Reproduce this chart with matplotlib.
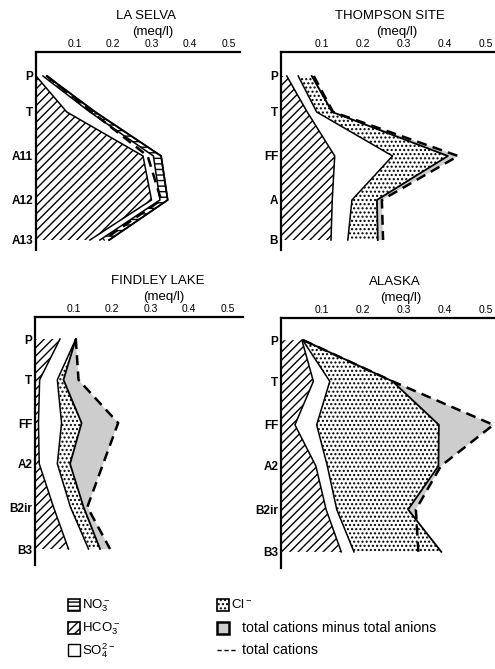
import numpy as np
import matplotlib
matplotlib.use('Agg')
import matplotlib.pyplot as plt
from matplotlib.patches import Rectangle
from matplotlib.lines import Line2D

plt.rcParams['font.family'] = ['Liberation Sans', 'DejaVu Sans']
plt.rcParams['mathtext.fontset'] = 'custom'
plt.rcParams['mathtext.rm'] = 'Liberation Sans'
plt.rcParams['hatch.linewidth'] = 1.0

# soil horizons (depth position of each horizon, top panels / bottom panels)
horizons_selva = ['P', 'T', 'A11', 'A12', 'A13']
horizons_thompson = ['P', 'T', 'FF', 'A', 'B']
horizons_bottom = ['P', 'T', 'FF', 'A2', 'B2ir', 'B3']
depth_top = [0, 0.9, 2.0, 3.1, 4.1]
depth_bottom = [0, 1.02, 2.1, 3.12, 4.2, 5.25]

# anion / cation concentrations (meq/l)
selva_hco3 = [0.0, 0.08, 0.278, 0.30, 0.14]
selva_so4 = [0.018, 0.06, 0.027, 0.022, 0.026]
selva_no3 = [0.01, 0.014, 0.02, 0.02, 0.024]
selva_cl = [0, 0, 0, 0, 0]
selva_cations = [0.028, 0.145, 0.29, 0.325, 0.175]

thompson_hco3 = [0.014, 0.064, 0.131, 0.125, 0.122]
thompson_so4 = [0.028, 0.023, 0.141, 0.048, 0.041]
thompson_no3 = [0, 0, 0, 0, 0]
thompson_cl = [0.033, 0.038, 0.135, 0.061, 0.073]
thompson_cations = [0.08, 0.127, 0.432, 0.246, 0.249]

findley_hco3 = [0.065, 0.012, 0.009, 0.011, 0.048, 0.087]
findley_so4 = [0.041, 0.046, 0.06, 0.047, 0.044, 0.052]
findley_no3 = [0, 0, 0, 0, 0, 0]
findley_cl = [0, 0.016, 0.052, 0.033, 0.034, 0.03]
findley_cations = [0.106, 0.113, 0.216, 0.177, 0.136, 0.195]

alaska_hco3 = [0.051, 0.079, 0.034, 0.085, 0.11, 0.147]
alaska_so4 = [0.002, 0.04, 0.053, 0.028, 0.026, 0.031]
alaska_no3 = [0, 0, 0, 0, 0, 0]
alaska_cl = [0.002, 0.153, 0.298, 0.271, 0.174, 0.213]
alaska_cations = [0.054, 0.272, 0.518, 0.39, 0.329, 0.335]

xticks = [0.1, 0.2, 0.3, 0.4, 0.5]

GREY = '#cdcdcd'


def draw_panel(ax, title, horizons, depth, hco3, so4, no3, cl, cations, xmax, ylim, tx):
    depth = np.array(depth)
    b1 = np.array(hco3)
    b2 = b1 + np.array(so4)
    b3 = b2 + np.array(no3)
    b4 = b3 + np.array(cl)
    cat = np.array(cations)

    ax.fill_betweenx(depth, 0, b1, facecolor='white', hatch='////', edgecolor='black', linewidth=0)
    if np.any(np.array(no3) > 0):
        ax.fill_betweenx(depth, b2, b3, facecolor='white', hatch='---', edgecolor='black', linewidth=0)
    if np.any(np.array(cl) > 0):
        ax.fill_betweenx(depth, b3, b4, facecolor='white', hatch='....', edgecolor='black', linewidth=0)
    ax.fill_betweenx(depth, b4, cat, where=cat > b4, interpolate=True,
                     facecolor=GREY, edgecolor='none')

    ax.plot(b1, depth, color='black', lw=1.1)
    ax.plot(b2, depth, color='black', lw=1.1)
    if np.any(np.array(no3) > 0):
        ax.plot(b3, depth, color='black', lw=1.1)
    ax.plot(b4, depth, color='black', lw=1.3)
    ax.plot(cat, depth, color='black', lw=1.8, dashes=(4, 2.5))

    ax.set_xlim(0, xmax)
    ax.set_ylim(ylim)
    ax.xaxis.tick_top()
    ax.set_xticks(xticks)
    ax.set_xticklabels([str(t) for t in xticks], fontsize=7.5)
    ax.set_yticks(depth)
    ax.set_yticklabels(horizons, fontsize=8.5, fontweight='bold')
    ax.tick_params(length=0, pad=2)
    for s in ['right', 'bottom']:
        ax.spines[s].set_visible(False)
    for s in ['left', 'top']:
        ax.spines[s].set_linewidth(1.6)
    ax.annotate(title, xy=(tx, 1), xycoords='axes fraction', xytext=(0, 36 * 0.72),
                textcoords='offset points', ha='center', va='center', fontsize=9.5)
    ax.annotate('(meq/l)', xy=(tx + 0.03, 1), xycoords='axes fraction', xytext=(0, 20 * 0.72),
                textcoords='offset points', ha='center', va='center', fontsize=9.5)


W, H = 495, 669
fig = plt.figure(figsize=(W / 100, H / 100), dpi=100)


def box(x0, x1, y0, y1):
    return [x0 / W, 1 - y1 / H, (x1 - x0) / W, (y1 - y0) / H]


ax1 = fig.add_axes(box(36, 240, 52, 250))
draw_panel(ax1, 'LA SELVA', horizons_selva, depth_top, selva_hco3, selva_so4,
           selva_no3, selva_cl, selva_cations, 204 / 385, (4.35, -0.6), 0.54)
ax2 = fig.add_axes(box(281, 495, 52, 250))
draw_panel(ax2, 'THOMPSON SITE', horizons_thompson, depth_top, thompson_hco3, thompson_so4,
           thompson_no3, thompson_cl, thompson_cations, 214 / 410, (4.35, -0.6), 0.51)
ax3 = fig.add_axes(box(35, 243, 317, 565))
draw_panel(ax3, 'FINDLEY LAKE', horizons_bottom, depth_bottom, findley_hco3, findley_so4,
           findley_no3, findley_cl, findley_cations, 208 / 385, (5.65, -0.55), 0.59)
ax4 = fig.add_axes(box(281, 495, 318, 568))
draw_panel(ax4, 'ALASKA', horizons_bottom, depth_bottom, alaska_hco3, alaska_so4,
           alaska_no3, alaska_cl, alaska_cations, 214 / 410, (5.65, -0.55), 0.53)

# legend drawn in pixel coordinates
lg = fig.add_axes([0, 0, 1, 1])
lg.set_xlim(0, W)
lg.set_ylim(H, 0)
lg.axis('off')
lg.patch.set_alpha(0)
lg.add_patch(Rectangle((68, 599), 12, 12, facecolor='white', edgecolor='black', hatch='----', lw=1.2))
lg.add_patch(Rectangle((68, 622), 12, 12, facecolor='white', edgecolor='black', hatch='////', lw=1.2))
lg.add_patch(Rectangle((68, 644), 12, 12, facecolor='white', edgecolor='black', lw=1))
lg.add_patch(Rectangle((217, 599), 12, 12, facecolor='white', edgecolor='black', hatch='....', lw=1.2))
lg.add_patch(Rectangle((217, 622), 12, 12, facecolor=GREY, edgecolor='black', lw=1.8))
lg.add_line(Line2D([217, 238], [650, 650], color='black', lw=1, dashes=(3, 2)))
fs = 9.5
lg.text(82, 606, r'NO$_3^-$', fontsize=fs, va='center')
lg.text(82, 629, r'HCO$_3^-$', fontsize=fs, va='center')
lg.text(82, 651, r'SO$_4^{2-}$', fontsize=fs, va='center')
lg.text(231, 605, r'Cl$^-$', fontsize=fs, va='center')
lg.text(242, 628, 'total cations minus total anions', fontsize=10.2, va='center')
lg.text(242, 650, 'total cations', fontsize=10.2, va='center')

fig.savefig('out.png', dpi=100)
